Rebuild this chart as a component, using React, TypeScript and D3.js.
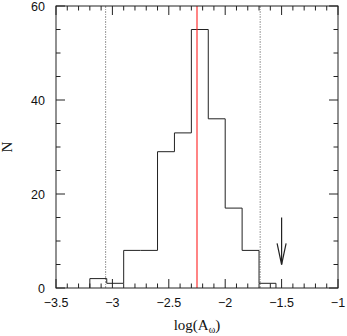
import React from 'react';
import * as d3 from 'd3';

// histogram of log(A_omega)
const binEdges = [-3.2, -3.05, -2.9, -2.75, -2.6, -2.45, -2.3, -2.15, -2.0, -1.85, -1.7, -1.55];
const counts = [2, 1, 8, 8, 29, 33, 55, 36, 17, 8, 1];

const redLine = -2.25;
const dashLines = [-3.06, -1.69];
const arrowX = -1.5;
const arrowFrom = 15;
const arrowTo = 5;

const xDomain = [-3.5, -1];
const yDomain = [0, 60];

const W = 347;
const H = 336;
const left = 56;
const right = 338;
const top = 6;
const bottom = 288;

const App = () => {
  const x = d3.scaleLinear().domain(xDomain).range([left, right]);
  const y = d3.scaleLinear().domain(yDomain).range([bottom, top]);

  const pts: [number, number][] = [[binEdges[0], 0]];
  counts.forEach((c, i) => pts.push([binEdges[i], c]));
  pts.push([binEdges[binEdges.length - 1], counts[counts.length - 1]]);
  pts.push([binEdges[binEdges.length - 1], 0]);

  const step = d3
    .line<[number, number]>()
    .x((d) => x(d[0]))
    .y((d) => y(d[1]))
    .curve(d3.curveStepAfter);

  const xMinor = x.ticks(25);
  const xMajor = x.ticks(5);
  const yMinor = y.ticks(12);
  const yMajor = y.ticks(3);
  const fmt = d3.format('~g');

  const isMajor = (v: number, arr: number[]) => arr.some((m) => Math.abs(m - v) < 1e-9);

  const headDx = 0.04;
  const headY = 9.5;

  return (
    <svg width={W} height={H} style={{ position: 'absolute', left: 0, top: 0 }}>
      <rect x={0} y={0} width={W} height={H} fill="white" />

      {dashLines.map((v) => (
        <line key={v} x1={x(v)} x2={x(v)} y1={y(0)} y2={y(60)} stroke="#999" strokeWidth={1} strokeDasharray="2,1,1,1" />
      ))}

      <path d={step(pts) || ''} fill="none" stroke="#222" strokeWidth={1} />

      <line x1={x(redLine)} x2={x(redLine)} y1={y(0)} y2={y(60)} stroke="#ff2020" strokeWidth={1.1} />

      <g stroke="#222" strokeWidth={1.2} fill="none">
        <line x1={x(arrowX)} x2={x(arrowX)} y1={y(arrowFrom)} y2={y(arrowTo)} />
        <path
          d={`M${x(arrowX - headDx)},${y(headY)}L${x(arrowX)},${y(arrowTo)}L${x(arrowX + headDx)},${y(headY)}`}
        />
      </g>

      {/* ticks on all four sides */}
      <g stroke="#222" strokeWidth={1}>
        {xMinor.map((v) => {
          const len = isMajor(v, xMajor) ? 9 : 4.5;
          return (
            <g key={'x' + v}>
              <line x1={x(v)} x2={x(v)} y1={bottom} y2={bottom - len} />
              <line x1={x(v)} x2={x(v)} y1={top} y2={top + len} />
            </g>
          );
        })}
        {yMinor.map((v) => {
          const len = isMajor(v, yMajor) ? 9 : 4.5;
          return (
            <g key={'y' + v}>
              <line x1={left} x2={left + len} y1={y(v)} y2={y(v)} />
              <line x1={right} x2={right - len} y1={y(v)} y2={y(v)} />
            </g>
          );
        })}
      </g>

      <rect x={left} y={top} width={right - left} height={bottom - top} fill="none" stroke="#222" strokeWidth={1} />

      <g fontFamily="'Liberation Sans', Arial, sans-serif" fontSize={12.5} fill="#111">
        {xMajor.map((v) => (
          <text key={'xl' + v} x={x(v)} y={307} textAnchor="middle">
            {fmt(v)}
          </text>
        ))}
        {yMajor.map((v) => (
          <text key={'yl' + v} x={45} y={y(v) + 4.5} textAnchor="end">
            {v}
          </text>
        ))}
      </g>

      <text x={197} y={330} textAnchor="middle" fontFamily="'Liberation Serif', 'Times New Roman', serif" fontSize={15} fill="#111">
        log(A<tspan fontSize={10} dy={3}>ω</tspan>
        <tspan dy={-3}>)</tspan>
      </text>

      <text
        transform={`translate(12,147) rotate(-90)`}
        textAnchor="middle"
        fontFamily="'Liberation Serif', 'Times New Roman', serif"
        fontSize={15}
        fill="#111"
      >
        N
      </text>
    </svg>
  );
};

export default App;
